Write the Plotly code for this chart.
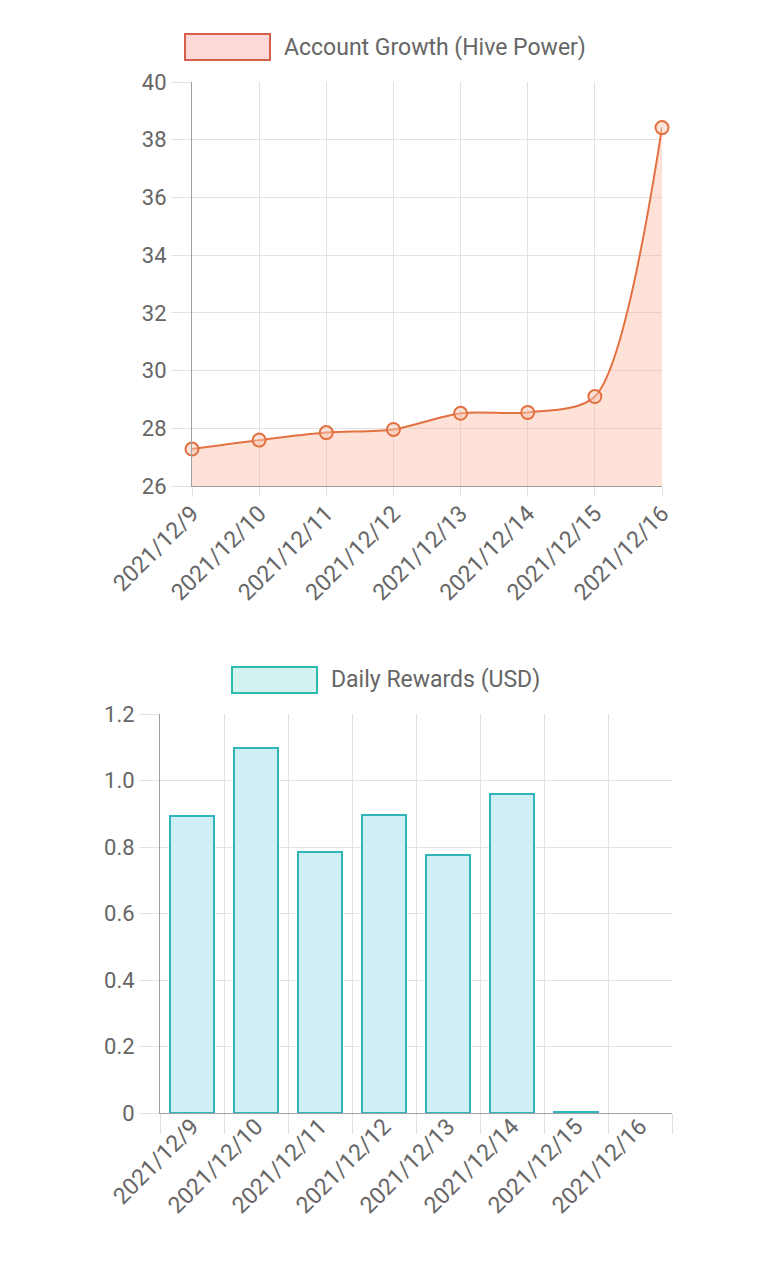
import plotly.graph_objects as go

dates = ['2021/12/9', '2021/12/10', '2021/12/11', '2021/12/12',
         '2021/12/13', '2021/12/14', '2021/12/15', '2021/12/16']
hive_power = [27.28, 27.59, 27.85, 27.96, 28.52, 28.55, 29.1, 38.42]
rewards_usd = [0.893, 1.097, 0.786, 0.895, 0.776, 0.958, 0.002, 0.0]

hp_ticks = [26, 28, 30, 32, 34, 36, 38, 40]
usd_ticks = [0, 0.2, 0.4, 0.6, 0.8, 1.0, 1.2]
usd_labels = ['0', '0.2', '0.4', '0.6', '0.8', '1.0', '1.2']

# page body has an 8px margin, so the figure is made 16px smaller
OFF = 8
W, H = 768 - 2 * OFF, 1275 - 2 * OFF
FONT = 'Roboto'
TXT = '#666666'
GRID = '#e2e2e2'
AXIS = '#a0a0a0'

line_col = 'rgb(226,112,64)'
bar_line = 'rgb(48,182,186)'


def px(x):
    return (x - OFF) / W


def py(y):
    return 1 - (y - OFF) / H


fig = go.Figure()

# Hive Power - line with fill
fig.add_trace(go.Scatter(
    x=dates, y=hive_power,
    mode='lines+markers',
    line=dict(color=line_col, width=2, shape='spline', smoothing=0.8),
    marker=dict(size=13, color='rgba(250,200,180,0.5)',
                line=dict(color=line_col, width=2)),
    fill='tozeroy', fillcolor='rgba(252,170,140,0.35)',
    xaxis='x', yaxis='y', showlegend=False, cliponaxis=False
))

# Daily rewards - bars (no outline on the empty last day)
fig.add_trace(go.Bar(
    x=dates, y=rewards_usd,
    marker=dict(color='rgba(205,238,243,0.95)',
                line=dict(color=bar_line, width=[2, 2, 2, 2, 2, 2, 2, 0])),
    width=0.69,
    xaxis='x2', yaxis='y2', showlegend=False
))

xfont = dict(family=FONT, size=23, color=TXT)
yfont = dict(family=FONT, size=22, color=TXT)
common = dict(showgrid=True, gridcolor=GRID, gridwidth=1,
              showline=True, linecolor=AXIS, linewidth=1,
              tickcolor=GRID, automargin=False)

fig.update_layout(
    width=W, height=H,
    margin=dict(l=0, r=0, t=0, b=0),
    paper_bgcolor='white', plot_bgcolor='white',
    font=dict(family=FONT, color=TXT),
    bargap=0,
    xaxis=dict(
        domain=[px(192), px(662)], anchor='y',
        type='category', range=[0, 7],
        ticks='outside', ticklen=10, tickangle=-45, tickfont=xfont,
        ticklabelstandoff=-6, **common
    ),
    yaxis=dict(
        domain=[py(486), py(82)], anchor='x',
        range=[26, 40], tickvals=hp_ticks,
        ticks='outside', ticklen=20, zeroline=False, tickfont=yfont, **common
    ),
    xaxis2=dict(
        domain=[px(160), px(672)], anchor='y2',
        type='category', range=[-0.5, 7.5], tickson='boundaries',
        ticks='outside', ticklen=20, tickangle=-45, tickfont=xfont,
        ticklabelstandoff=-10, **common
    ),
    yaxis2=dict(
        domain=[py(1113), py(714)], anchor='x2',
        range=[0, 1.2], tickvals=usd_ticks, ticktext=usd_labels,
        ticks='outside', ticklen=20, zeroline=False, tickfont=yfont, **common
    ),
)

# Chart.js-style legend boxes
legends = [
    (185, 34, 'rgba(252,200,196,0.7)', 'rgb(214,96,76)', 'Account Growth (Hive Power)'),
    (232, 667, 'rgba(200,240,238,0.8)', 'rgb(48,186,170)', 'Daily Rewards (USD)'),
]
for x0, y0, fc, lc, label in legends:
    fig.add_shape(type='rect', xref='paper', yref='paper',
                  x0=px(x0), x1=px(x0 + 85), y0=py(y0 + 26), y1=py(y0),
                  fillcolor=fc, line=dict(color=lc, width=2))
    fig.add_annotation(x=px(x0 + 97), y=py(y0 + 13), xref='paper', yref='paper',
                       text=label, showarrow=False, xanchor='left', yanchor='middle',
                       font=dict(family=FONT, size=23, color=TXT))

fig.write_html('out.html')
